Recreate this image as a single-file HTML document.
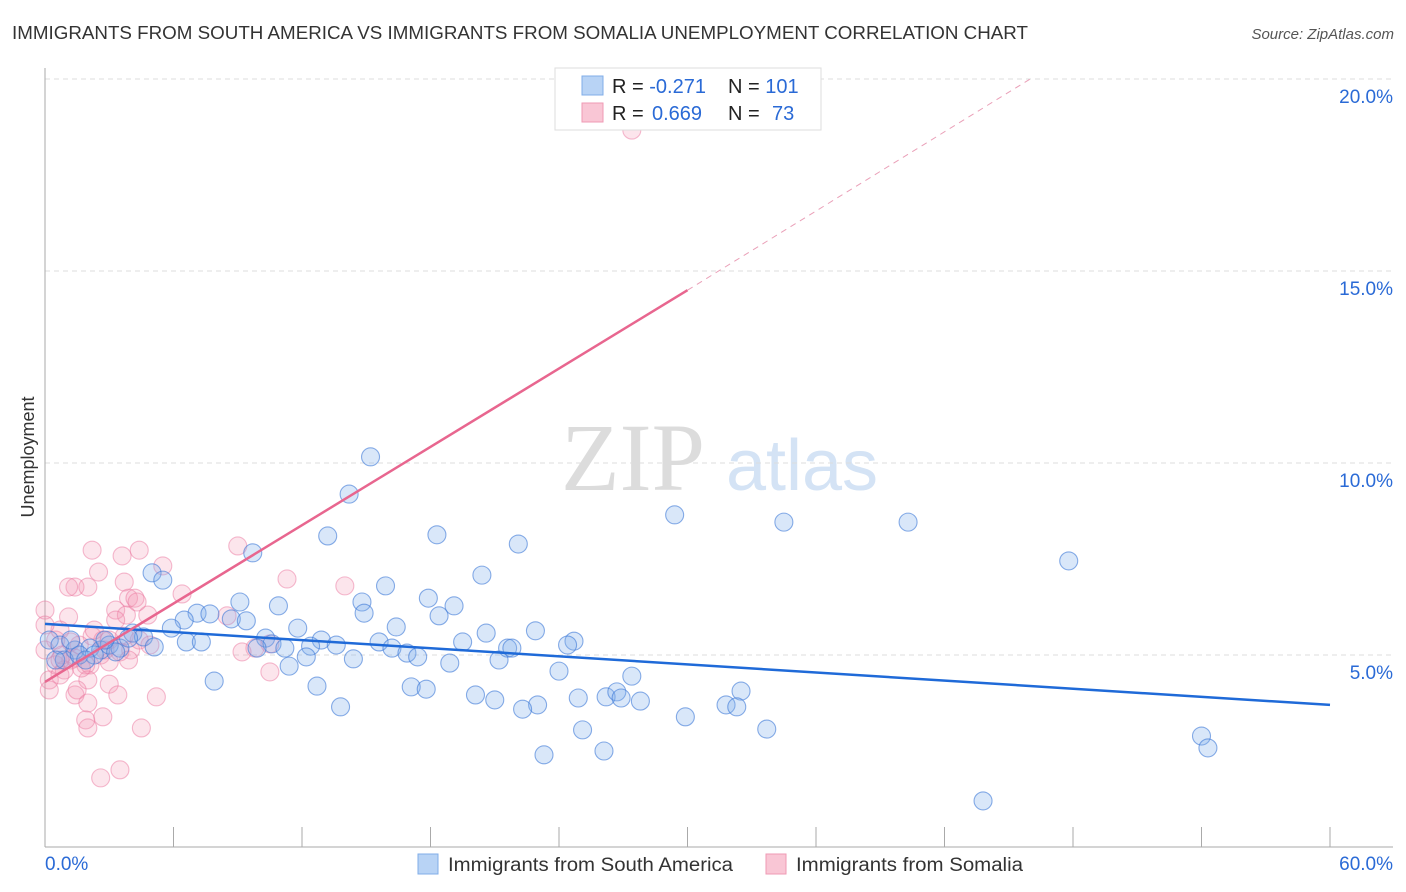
<!DOCTYPE html>
<html><head><meta charset="utf-8"><style>
body{margin:0;background:#fff;width:1406px;height:892px;overflow:hidden;font-family:"Liberation Sans",sans-serif}
svg{display:block}
</style></head><body>
<svg id="chart" width="1406" height="892" xmlns="http://www.w3.org/2000/svg">
<text x="12" y="39" font-size="18" fill="#333" textLength="1016" lengthAdjust="spacingAndGlyphs">IMMIGRANTS FROM SOUTH AMERICA VS IMMIGRANTS FROM SOMALIA UNEMPLOYMENT CORRELATION CHART</text>
<text x="1394" y="39" font-size="15" fill="#555" font-style="italic" text-anchor="end">Source: ZipAtlas.com</text>
<g>
<text x="633" y="490" font-size="96" font-family="Liberation Serif,serif" fill="#dcdcdc" text-anchor="middle">ZIP</text>
<text x="802" y="490" font-size="72" fill="#d4e3f5" text-anchor="middle">atlas</text>
</g>
<g id="grid"></g>
<g id="axes"></g>
<text transform="translate(34,457) rotate(-90)" font-size="18" fill="#333" text-anchor="middle">Unemployment</text>
<g id="pts"></g>
<g id="lines"></g>
<g>
<rect x="555" y="68" width="266" height="62" fill="#fff" stroke="#ddd"/>
<rect x="582" y="76" width="21" height="19" fill="#b8d3f5" stroke="#80aee8"/>
<rect x="582" y="103" width="21" height="19" fill="#f9c6d5" stroke="#ef9ab4"/>
<text x="612" y="93" font-size="20" fill="#222">R = <tspan fill="#2a6ad6">-0.271</tspan><tspan x="728">N = </tspan><tspan fill="#2a6ad6">101</tspan></text>
<text x="612" y="120" font-size="20" fill="#222">R = <tspan fill="#2a6ad6" x="652">0.669</tspan><tspan x="728">N = </tspan><tspan fill="#2a6ad6" x="772">73</tspan></text>
</g>
<g>
<rect x="418" y="854" width="20" height="20" fill="#b8d3f5" stroke="#80aee8"/>
<text x="448" y="871" font-size="19" fill="#333" textLength="285" lengthAdjust="spacingAndGlyphs">Immigrants from South America</text>
<rect x="766" y="854" width="20" height="20" fill="#f9c6d5" stroke="#ef9ab4"/>
<text x="796" y="871" font-size="19" fill="#333" textLength="227" lengthAdjust="spacingAndGlyphs">Immigrants from Somalia</text>
</g>
</svg>
<script>
const xTicks=[0,60];
const yTicks=[5,10,15,20];
const blueX=[15.2,14.2,29.4,34.5,40.3,13.2,18.3,22.1,47.8,9.7,5.0,5.5,20.4,15.9,9.1,10.9,17.9,19.1,14.8,14.9,18.4,7.1,7.7,8.7,9.4,6.5,16.4,11.8,20.6,22.9,24.7,24.4,19.5,5.9,4.1,4.6,5.1,6.6,7.3,10.3,10.6,9.9,11.2,12.9,13.6,12.4,15.6,16.2,16.9,17.4,12.2,11.4,14.4,18.9,21.2,21.6,21.8,24.0,27.4,7.9,12.7,17.1,17.8,32.5,20.1,21.0,24.9,26.2,26.7,26.9,27.8,31.8,32.3,23.0,22.3,13.8,29.9,25.1,33.7,23.3,26.1,54.0,54.3,43.8,0.2,0.7,1.4,2.1,2.6,3.0,3.5,3.9,0.9,1.6,0.5,2.3,3.3,1.2,1.9,2.8];
const blueY=[10.16,9.19,8.65,8.46,8.46,8.10,8.13,7.89,7.45,7.66,7.14,6.95,7.08,6.80,6.38,6.28,6.48,6.28,6.38,6.09,6.02,6.09,6.07,5.94,5.89,5.91,5.73,5.70,5.57,5.63,5.36,5.26,5.34,5.70,5.57,5.47,5.21,5.34,5.34,5.44,5.29,5.18,5.18,5.39,5.26,5.23,5.34,5.18,5.05,4.95,4.95,4.71,4.90,4.79,4.87,5.18,5.18,4.58,4.45,4.32,4.19,4.17,4.11,4.06,3.96,3.83,3.88,3.91,4.04,3.88,3.80,3.70,3.65,3.70,3.59,3.65,3.39,3.05,3.07,2.40,2.50,2.89,2.58,1.20,5.39,5.26,5.13,5.18,5.13,5.26,5.18,5.44,4.87,5.00,4.87,5.00,5.08,5.39,4.87,5.39];
const pinkX=[27.4,2.2,4.4,9.0,5.5,3.6,2.5,1.4,1.1,2.0,3.7,3.9,4.2,11.3,14.0,6.4,3.3,0.0,1.1,4.8,8.5,3.8,0.7,3.3,2.2,3.7,1.6,1.2,1.9,2.6,3.0,4.0,4.4,4.9,9.8,10.5,9.2,0.5,0.9,1.4,0.2,0.7,0.0,2.1,2.7,3.5,2.0,1.4,1.5,3.0,3.4,5.2,2.0,1.9,2.7,2.0,4.5,2.6,3.5,10.5,0.5,2.3,3.0,1.2,0.2,0.8,1.7,3.9,4.3,0.0,2.8,0.7];
const pinkY=[18.67,7.73,7.73,7.84,7.32,7.58,7.16,6.77,6.77,6.77,6.90,6.48,6.48,6.98,6.80,6.59,6.17,6.17,5.99,6.04,6.02,6.04,5.65,5.91,5.49,5.49,5.26,4.87,4.74,5.00,5.39,5.13,5.39,5.26,5.18,5.29,5.08,4.74,4.61,4.92,4.35,4.48,5.13,4.74,5.39,5.08,4.35,3.96,4.09,4.24,3.96,3.91,3.75,3.31,3.39,3.10,3.10,1.80,2.01,4.56,5.39,5.65,4.82,5.34,4.09,5.00,4.66,4.87,6.38,5.78,5.13,4.87];
const blueTrend=[5.81,3.70];
const pinkTrend=[4.30,14.5,20.0];
const pinkTrendX=[0,30.0,46.0];
const sx=v=>45+v/60*1285;
const sy=v=>847-v*38.4;
const NS="http://www.w3.org/2000/svg";
function mk(tag,attrs,parent){const e=document.createElementNS(NS,tag);for(const k in attrs)e.setAttribute(k,attrs[k]);parent.appendChild(e);return e;}
const grid=document.getElementById('grid'),axes=document.getElementById('axes'),pts=document.getElementById('pts'),lines=document.getElementById('lines');
yTicks.forEach(t=>{
 const l=mk('line',{x1:45,x2:1393,y1:sy(t),y2:sy(t),stroke:'#ddd','stroke-dasharray':'5,4'},grid);
 
 
 const tx=mk('text',{x:1393,y:sy(t)+24,'font-size':19,fill:'#2a6ad6','text-anchor':'end'},axes);
 tx.textContent=t.toFixed(1)+'%';
 
 
});
mk('line',{x1:45,x2:45,y1:68,y2:847,stroke:'#aaa'},axes);
mk('line',{x1:45,x2:1393,y1:847,y2:847,stroke:'#aaa'},axes);
for(let i=0;i<=10;i++){const x=sx(i*6);mk('line',{x1:x,x2:x,y1:827,y2:847,stroke:'#aaa'},axes);}
xTicks.forEach((t,i)=>{
 const tx=mk('text',{x:i==0?45:1393,y:870,'font-size':19,fill:'#2a6ad6','text-anchor':i==0?'start':'end'},axes);
 tx.textContent=t.toFixed(1)+'%';
 
 
});
pinkX.forEach((v,i)=>{
 const c=mk('circle',{cx:sx(v),cy:sy(pinkY[i]),r:9,fill:'rgba(244,150,180,0.25)',stroke:'rgba(236,120,160,0.5)','stroke-width':1.1},pts);
 
 
});
blueX.forEach((v,i)=>{
 const c=mk('circle',{cx:sx(v),cy:sy(blueY[i]),r:9,fill:'rgba(130,175,235,0.3)',stroke:'rgba(60,120,215,0.6)','stroke-width':1.1},pts);
 
 
});
const bl=mk('line',{x1:sx(0),y1:sy(blueTrend[0]),x2:sx(60),y2:sy(blueTrend[1]),stroke:'#1f6ad8','stroke-width':2.5},lines);


const pl=mk('line',{x1:sx(pinkTrendX[0]),y1:sy(pinkTrend[0]),x2:sx(pinkTrendX[1]),y2:sy(pinkTrend[1]),stroke:'#e8668f','stroke-width':2.5},lines);


const pd=mk('line',{x1:sx(pinkTrendX[1]),y1:sy(pinkTrend[1]),x2:sx(pinkTrendX[2]),y2:sy(pinkTrend[2]),stroke:'#eaa0b8','stroke-width':1,'stroke-dasharray':'6,5'},lines);


</script>
</body></html>
